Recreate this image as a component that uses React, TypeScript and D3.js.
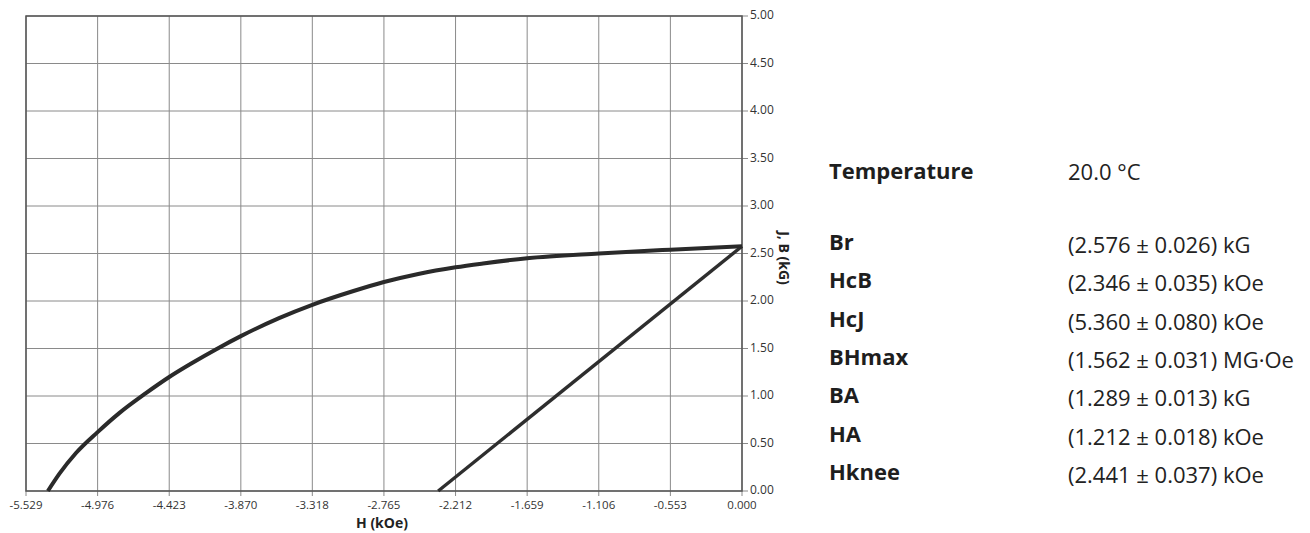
import React from "react";
import * as d3 from "d3";

const xTickValues = [-5.529, -4.976, -4.423, -3.87, -3.318, -2.765, -2.212, -1.659, -1.106, -0.553, 0];
const xTickLabels = ["-5.529", "-4.976", "-4.423", "-3.870", "-3.318", "-2.765", "-2.212", "-1.659", "-1.106", "-0.553", "0.000"];
const yTickValues = [0, 0.5, 1, 1.5, 2, 2.5, 3, 3.5, 4, 4.5, 5];
const yTickLabels = ["0.00", "0.50", "1.00", "1.50", "2.00", "2.50", "3.00", "3.50", "4.00", "4.50", "5.00"];

// J curve (intrinsic)
const jH = [-5.36, -5.272, -5.143, -4.976, -4.809, -4.603, -4.423, -4.243, -4.063, -3.87, -3.575, -3.318, -3.0, -2.765, -2.5, -2.212, -2.0, -1.659, -1.106, -0.553, 0];
const jJ = [0, 0.18, 0.4, 0.62, 0.82, 1.03, 1.2, 1.35, 1.49, 1.63, 1.82, 1.96, 2.105, 2.2, 2.285, 2.355, 2.395, 2.45, 2.5, 2.54, 2.576];

// B line (normal)
const bH = [-2.346, 0];
const bB = [0, 2.576];

const paramLabels = ["Br", "HcB", "HcJ", "BHmax", "BA", "HA", "Hknee"];
const paramValues = [
  "(2.576 ± 0.026) kG",
  "(2.346 ± 0.035) kOe",
  "(5.360 ± 0.080) kOe",
  "(1.562 ± 0.031) MG·Oe",
  "(1.289 ± 0.013) kG",
  "(1.212 ± 0.018) kOe",
  "(2.441 ± 0.037) kOe",
];
const temperatureLabel = "Temperature";
const temperatureValue = "20.0 °C";

const W = 1310;
const H = 533;
const left = 26, right = 742, top = 16, bottom = 491;

export default function App() {
  const x = d3.scaleLinear().domain([-5.529, 0]).range([left, right]);
  const y = d3.scaleLinear().domain([0, 5]).range([bottom, top]);

  const jPts: [number, number][] = jH.map((h, i) => [h, jJ[i]]);
  const bPts: [number, number][] = bH.map((h, i) => [h, bB[i]]);
  const line = d3
    .line<[number, number]>()
    .x((d) => x(d[0]))
    .y((d) => y(d[1]))
    .curve(d3.curveMonotoneX);

  const font = "'Open Sans', 'Noto Sans', sans-serif";

  return (
    <svg
      width={W}
      height={H}
      style={{ position: "absolute", left: 0, top: 0, background: "#fff" }}
      fontFamily={font}
    >
      {/* grid */}
      {xTickValues.map((v, i) => (
        <line key={"gx" + i} x1={x(v)} x2={x(v)} y1={top} y2={bottom + 5} stroke="#8a8a8a" strokeWidth={1} />
      ))}
      {yTickValues.map((v, i) => (
        <line key={"gy" + i} x1={left} x2={right + 6} y1={y(v)} y2={y(v)} stroke="#8a8a8a" strokeWidth={1} />
      ))}
      <rect x={left} y={top} width={right - left} height={bottom - top} fill="none" stroke="#555" strokeWidth={1.5} />

      {/* curves */}
      <path d={line(bPts) || ""} fill="none" stroke="#2e2e2e" strokeWidth={3.4} />
      <path d={line(jPts) || ""} fill="none" stroke="#2a2a2a" strokeWidth={4} strokeLinejoin="round" />

      {/* x tick labels */}
      {xTickValues.map((v, i) => (
        <text key={"xl" + i} x={x(v)} y={bottom + 15} textAnchor="middle" dominantBaseline="middle" fontSize={11.5} fill="#333">
          {xTickLabels[i]}
        </text>
      ))}
      {/* y tick labels */}
      {yTickValues.map((v, i) => (
        <text key={"yl" + i} x={right + 8} y={y(v)} dominantBaseline="middle" fontSize={12} fill="#333">
          {yTickLabels[i]}
        </text>
      ))}
      <text x={382} y={528} textAnchor="middle" fontSize={14} fontWeight="bold" fill="#222">
        H (kOe)
      </text>
      <text
        transform={`translate(783, 258) rotate(90)`}
        textAnchor="middle"
        dominantBaseline="middle"
        fontSize={14}
        fontWeight="bold"
        fill="#222"
      >
        J, B (kG)
      </text>

      {/* parameter panel */}
      <text x={829} y={179} fontSize={22} fontWeight="bold" fill="#1e1e1e">
        {temperatureLabel}
      </text>
      <text x={1068} y={180} fontSize={22} fill="#222">
        {temperatureValue}
      </text>
      {paramLabels.map((p, i) => (
        <g key={"p" + i}>
          <text x={829} y={250 + i * 38.3} fontSize={22} fontWeight="bold" fill="#1e1e1e">
            {p}
          </text>
          <text x={1068} y={253 + i * 38.3} fontSize={22} fill="#222">
            {paramValues[i]}
          </text>
        </g>
      ))}
    </svg>
  );
}
